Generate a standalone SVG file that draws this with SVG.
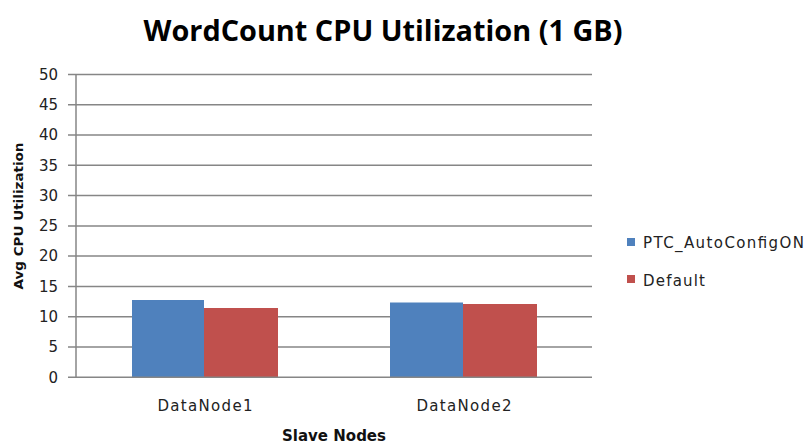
<svg xmlns="http://www.w3.org/2000/svg" width="807" height="448" viewBox="0 0 807 448">
<style>
.grid{stroke:#868686;stroke-width:1.5}
.tick{font-family:"DejaVu Sans",Verdana,sans-serif;font-size:15px;fill:#222;text-anchor:end}
.cat{font-family:"DejaVu Sans",Verdana,sans-serif;font-size:15px;fill:#222;text-anchor:middle}
.leg{font-family:"DejaVu Sans",Verdana,sans-serif;font-size:15px;fill:#222}
.axt{font-family:"DejaVu Sans",Verdana,sans-serif;font-weight:bold;fill:#111;text-anchor:middle}
.blue{fill:#4F81BD}
.red{fill:#C0504D}
</style>
<rect width="807" height="448" fill="#fff"/>
<text x="383" y="41" font-family="'Open Sans','Liberation Sans',sans-serif" font-size="29" font-weight="bold" fill="#000" text-anchor="middle" textLength="479" lengthAdjust="spacingAndGlyphs">WordCount CPU Utilization (1 GB)</text>
<g id="grid">
<line class="grid" x1="68" y1="74.5" x2="592" y2="74.5"/>
<line class="grid" x1="68" y1="104.8" x2="592" y2="104.8"/>
<line class="grid" x1="68" y1="135" x2="592" y2="135"/>
<line class="grid" x1="68" y1="165.3" x2="592" y2="165.3"/>
<line class="grid" x1="68" y1="195.6" x2="592" y2="195.6"/>
<line class="grid" x1="68" y1="225.9" x2="592" y2="225.9"/>
<line class="grid" x1="68" y1="256.1" x2="592" y2="256.1"/>
<line class="grid" x1="68" y1="286.4" x2="592" y2="286.4"/>
<line class="grid" x1="68" y1="316.7" x2="592" y2="316.7"/>
<line class="grid" x1="68" y1="346.9" x2="592" y2="346.9"/>
<line class="grid" x1="76" y1="74.5" x2="76" y2="377.2"/>
</g>
<g id="yticks">
<text class="tick" x="58" y="80">50</text>
<text class="tick" x="58" y="110">45</text>
<text class="tick" x="58" y="140">40</text>
<text class="tick" x="58" y="171">35</text>
<text class="tick" x="58" y="201">30</text>
<text class="tick" x="58" y="231">25</text>
<text class="tick" x="58" y="261">20</text>
<text class="tick" x="58" y="292">15</text>
<text class="tick" x="58" y="322">10</text>
<text class="tick" x="58" y="352">5</text>
<text class="tick" x="58" y="383">0</text>
</g>
<g id="bars">
<rect id="dn1-ptc" class="blue" x="132" y="300" width="72" height="77.2"/>
<rect id="dn1-def" class="red" x="204" y="308" width="74" height="69.2"/>
<rect id="dn2-ptc" class="blue" x="390" y="302.5" width="73" height="74.7"/>
<rect id="dn2-def" class="red" x="463" y="304" width="74" height="73.2"/>
</g>
<line class="grid" x1="68" y1="377.2" x2="592" y2="377.2"/>
<g id="xlabels">
<text class="cat" x="205" y="411" textLength="95">DataNode1</text>
<text class="cat" x="464" y="411" textLength="95">DataNode2</text>
</g>
<text class="axt" x="334" y="441" font-size="15" textLength="104" lengthAdjust="spacingAndGlyphs">Slave Nodes</text>
<text class="axt" font-size="13" textLength="147" lengthAdjust="spacingAndGlyphs" transform="translate(23,216) rotate(-90)">Avg CPU Utilization</text>
<g id="legend">
<rect class="blue" x="627" y="238" width="8" height="8"/>
<text class="leg" x="643" y="248" textLength="161">PTC_AutoConfigON</text>
<rect class="red" x="627" y="275" width="8" height="8"/>
<text class="leg" x="643" y="286" textLength="62">Default</text>
</g>
</svg>
